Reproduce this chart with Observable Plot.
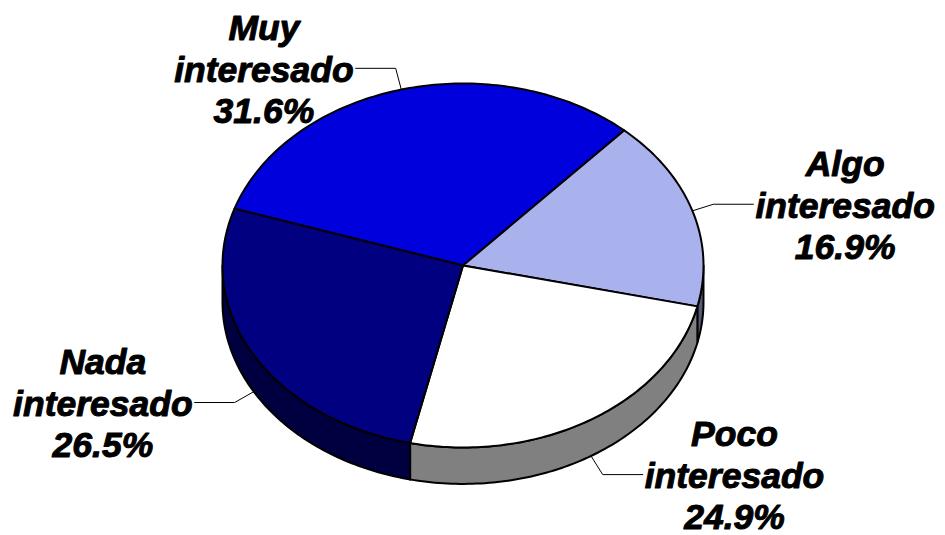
<!DOCTYPE html>
<html><head><meta charset="utf-8">
<script src="https://cdn.jsdelivr.net/npm/d3@7"></script>
<script src="https://cdn.jsdelivr.net/npm/@observablehq/plot@0.6"></script>
<style>body{margin:0;background:#fff}</style>
</head><body><div id="chart"></div>
<script>
// ---- data ----
const categories = ["Muy interesado", "Algo interesado", "Poco interesado", "Nada interesado"];
const shares = [31.6, 16.9, 24.9, 26.5];
const topColors = ["#0000DD", "#AAB2EE", "#FFFFFF", "#000080"];
const sideColors = ["#00006E", "#555977", "#808080", "#000040"];

// ---- layout ----
const W = 945, H = 535;
const xRange = [222, 703], yRange = [83, 447];
const startDeg = -71.8;   // first slice start, clockwise from top
const depth = 0.2;        // pie thickness in y units
const FONT = "'Liberation Sans', Arial, Helvetica, sans-serif";
const FS = 35.5;

const xs = d3.scaleLinear([-1, 1], xRange);
const ys = d3.scaleLinear([1, -1], yRange);
const rad = d => d * Math.PI / 180;
const pt = (a, dz = 0) => ({x: Math.sin(rad(a)), y: Math.cos(rad(a)) - dz});
function arc(a0, a1, dz = 0) {
  const n = Math.max(2, Math.ceil(Math.abs(a1 - a0)));
  return d3.range(n + 1).map(i => pt(a0 + (a1 - a0) * i / n, dz));
}

const total = d3.sum(shares);
let acc = startDeg;
const slices = shares.map((v, i) => {
  const a0 = acc, a1 = acc + v / total * 360; acc = a1;
  return {i, a0, a1, mid: (a0 + a1) / 2};
});

// side walls (front half: 90..270 deg)
const sides = [];
slices.forEach(s => {
  for (const k of [-1, 0, 1]) {
    const b0 = Math.max(s.a0, 90 + 360 * k), b1 = Math.min(s.a1, 270 + 360 * k);
    if (b1 > b0) {
      const pts = [...arc(b0, b1, 0), ...arc(b1, b0, depth)];
      pts.push(pts[0]);
      sides.push({pts, color: sideColors[s.i]});
    }
  }
});

// top faces
const tops = slices.map(s => {
  const pts = [{x: 0, y: 0}, ...arc(s.a0, s.a1), {x: 0, y: 0}];
  return {pts, color: topColors[s.i]};
});

// labels + leader lines
const ctx = document.createElement("canvas").getContext("2d");
ctx.font = `italic bold ${FS}px ${FONT}`;
const labels = [], leaders = [];
slices.forEach(s => {
  const sa = Math.sin(rad(s.mid)), ca = Math.cos(rad(s.mid));
  const p = pt(s.mid, ca < 0 ? depth : 0);
  const ax = xs(p.x), ay = ys(p.y);
  const ex = ax + 22 * sa, ey = ay - 22 * ca;
  const dir = sa >= 0 ? 1 : -1;
  const hx = ex + dir * 40;
  const parts = categories[s.i].split(" ");
  const lines = [...parts, shares[s.i].toFixed(1) + "%"];
  const w = d3.max(lines, t => ctx.measureText(t).width);
  const cx = hx + dir * (2 + w / 2);
  leaders.push([{x: xs.invert(ax), y: ys.invert(ay)}, {x: xs.invert(ex), y: ys.invert(ey)}, {x: xs.invert(hx), y: ys.invert(ey)}]);
  labels.push({x: xs.invert(cx), y: ys.invert(ey), text: lines.join("\n")});
});

const marks = [];
sides.forEach(s => marks.push(Plot.line(s.pts, {x: "x", y: "y", fill: s.color, stroke: "black", strokeWidth: 2, strokeLinejoin: "round"})));
tops.forEach(t => marks.push(Plot.line(t.pts, {x: "x", y: "y", fill: t.color, stroke: "black", strokeWidth: 2, strokeLinejoin: "round"})));
leaders.forEach(l => marks.push(Plot.line(l, {x: "x", y: "y", stroke: "black", strokeWidth: 1})));
marks.push(Plot.text(labels, {
  x: "x", y: "y", text: "text", textAnchor: "middle", lineAnchor: "middle", lineHeight: 1.17,
  fontSize: FS, fontWeight: "bold", fontStyle: "italic", fontFamily: FONT,
  fill: "black", stroke: "black", strokeWidth: 1
}));

const chart = Plot.plot({
  width: W, height: H, margin: 0,
  style: {background: "white", overflow: "visible"},
  x: {domain: [-1, 1], range: xRange, axis: null},
  y: {domain: [1, -1], range: yRange, axis: null},
  marks
});
document.getElementById("chart").appendChild(chart);
</script>
</body></html>
